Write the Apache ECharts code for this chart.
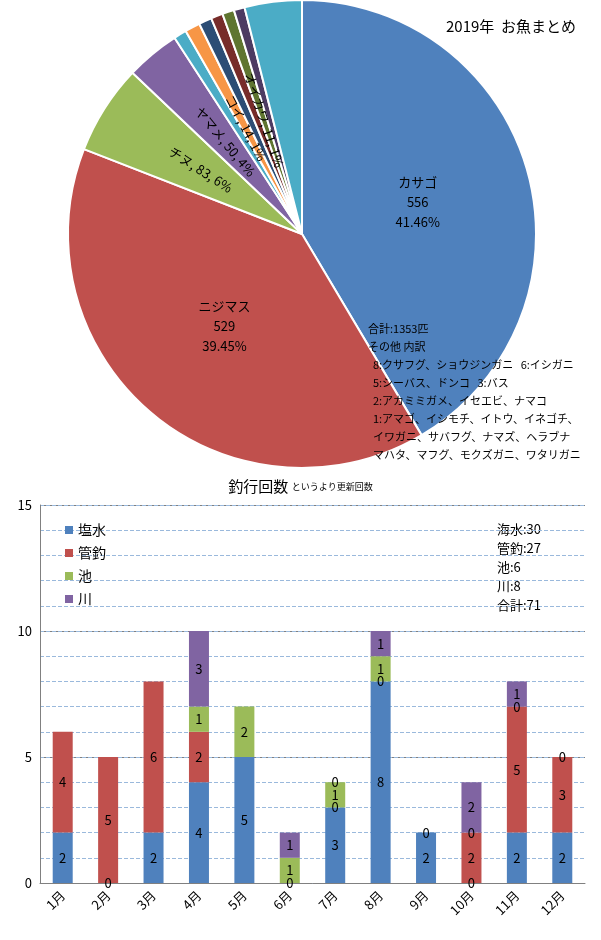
<!DOCTYPE html>
<html><head><meta charset="utf-8">
<script src="https://cdn.jsdelivr.net/npm/echarts@6/dist/echarts.min.js"></script>
<style>body{margin:0;background:#fff}#c{width:601px;height:940px}</style>
</head><body><div id="c"></div>
<script>
// 魚の内訳
var fishNames = ['カサゴ','ニジマス','チヌ','ヤマメ','ブラウントラウト','コイ','ムラソイ','メバル','オイカワ','ライギョ','その他'];
var fishCounts = [556,529,83,50,12,14,12,11,11,10,53];
var fishColors = ['#4f81bd','#c0504d','#9bbb59','#8064a2','#4bacc6','#f79646','#2c4d75','#772c2a','#5f7530','#4d3b62','#4bacc6'];

// 釣行回数
var months = ['1月','2月','3月','4月','5月','6月','7月','8月','9月','10月','11月','12月'];
var enSui = [2,0,2,4,5,0,3,8,2,0,2,2];
var kanTsuri = [4,5,6,2,null,null,0,0,0,2,5,3];
var ike = [null,null,null,1,2,1,1,1,null,0,0,0];
var kawa = [null,null,null,3,null,1,0,1,null,2,1,null];

var chart = echarts.init(document.getElementById('c'));
var ff = '"Noto Sans CJK JP", sans-serif';

var pieData = fishNames.map(function (n, i) {
    var d = {name: n, value: fishCounts[i], itemStyle: {color: fishColors[i]}};
    if (i < 2) {
        d.label = {position: 'inside', formatter: '{b}\n{c}\n{d}%', fontSize: 13, lineHeight: 20};
    } else if (i == 10) {
        d.label = {position: 'inside', formatter: '{b}\n{c}\n{d}%', fontSize: 13, lineHeight: 20, distanceToLabelLine: 0};
    } else {
        d.label = {position: 'inside', rotate: 'radial', formatter: function (p) {
            return p.name + ', ' + p.value + ', ' + Math.max(1, Math.round(p.percent)) + '%';
        }, fontSize: 13};
    }
    return d;
});

chart.setOption({
    textStyle: {fontFamily: ff},
    title: [
        {text: '2019年  お魚まとめ', right: 20, top: 14, textStyle: {fontSize: 15, fontWeight: 'normal', color: '#000'}},
        {text: '釣行回数 {s|というより更新回数}', left: 'center', top: 474,
         textStyle: {fontSize: 15, fontWeight: 'normal', color: '#000', rich: {s: {fontSize: 9}}}}
    ],
    legend: {
        orient: 'vertical', left: 60, top: 518, itemWidth: 8, itemHeight: 8, itemGap: 9,
        icon: 'rect', textStyle: {fontSize: 14, color: '#000'},
        data: ['塩水','管釣','池','川']
    },
    graphic: [
        {type: 'text', left: 497, top: 520, style: {text: '海水:30\n管釣:27\n池:6\n川:8\n合計:71', fontSize: 13, lineHeight: 19, fill: '#000', fontFamily: ff}},
        {type: 'text', left: 368, top: 320, z: 100, style: {
            text: '合計:1353匹\nその他 内訳\n  8:クサフグ、ショウジンガニ   6:イシガニ\n  5:シーバス、ドンコ   3:バス\n  2:アカミミガメ、イセエビ、ナマコ\n  1:アマゴ、イシモチ、イトウ、イネゴチ、\n  イワガニ、サバフグ、ナマズ、ヘラブナ\n  マハタ、マフグ、モクズガニ、ワタリガニ',
            fontSize: 11, lineHeight: 18, fill: '#000', fontFamily: ff}}
    ],
    grid: {left: 40, right: 16, top: 505, bottom: 57},
    xAxis: {type: 'category', data: months,
        axisLine: {lineStyle: {color: '#808080'}}, axisTick: {show: false},
        axisLabel: {rotate: 45, color: '#000', fontSize: 13, margin: 10}},
    yAxis: [
        {type: 'value', min: 0, max: 15, interval: 5,
         axisLine: {show: true, lineStyle: {color: '#808080'}}, axisTick: {show: false},
         axisLabel: {color: '#000', fontSize: 13},
         splitLine: {lineStyle: {color: '#808080'}}},
        {type: 'value', min: 0, max: 15, interval: 1, position: 'left', show: true,
         axisLine: {show: false}, axisTick: {show: false}, axisLabel: {show: false},
         splitLine: {lineStyle: {color: '#9ab9dc', type: 'dashed'}}}
    ],
    series: [
        {type: 'pie', center: [302, 234], radius: [0, 234], startAngle: 90, clockwise: true,
         data: pieData, itemStyle: {borderColor: '#fff', borderWidth: 2},
         label: {color: '#000'}, labelLine: {show: false}, animation: false, z: 1},
        {name: '塩水', type: 'bar', stack: 'a', data: enSui, barWidth: 20, itemStyle: {color: '#4f81bd'}},
        {name: '管釣', type: 'bar', stack: 'a', data: kanTsuri, itemStyle: {color: '#c0504d'}},
        {name: '池', type: 'bar', stack: 'a', data: ike, itemStyle: {color: '#9bbb59'}},
        {name: '川', type: 'bar', stack: 'a', data: kawa, itemStyle: {color: '#8064a2'}}
    ].map(function (s) {
        if (s.type == 'bar') {
            s.label = {show: true, position: 'inside', color: '#000', fontSize: 13};
            s.animation = false;
        }
        return s;
    })
});
</script></body></html>
